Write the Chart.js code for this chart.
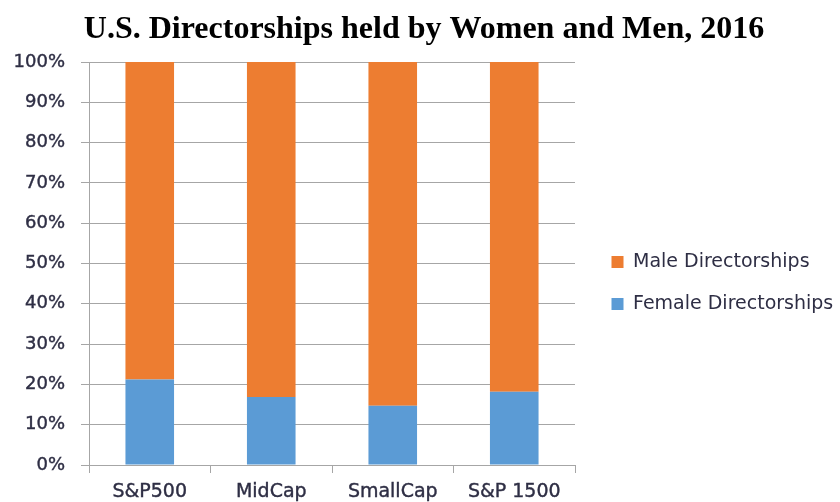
<!DOCTYPE html>
<html>
<head>
<meta charset="utf-8">
<script src="https://cdn.jsdelivr.net/npm/chart.js@4.4.1/dist/chart.umd.min.js"></script>
<style>
  html, body { margin: 0; padding: 0; background: #ffffff; }
  #wrap { width: 840px; height: 502px; }
</style>
</head>
<body>
<div id="wrap"><canvas id="c" width="840" height="502"></canvas></div>
<script>
const categories = ['S&P500', 'MidCap', 'SmallCap', 'S&P 1500'];
const femaleShare = [21.2, 16.9, 14.7, 18.2];
const maleShare = [78.8, 83.1, 85.3, 81.8];
const seriesNames = ['Female Directorships', 'Male Directorships'];
const titleText = 'U.S. Directorships held by Women and Men, 2016';

const gridColor = '#a6a6a6';
const labelColor = '#2e2e44';
const sansFamily = '"DejaVu Sans", Verdana, sans-serif';

const legendTweak = {
  id: 'legendTweak',
  beforeLayout(chart) {
    const lg = chart.legend;
    if (lg && !lg._patched) {
      const orig = lg.fit.bind(lg);
      lg.fit = function () { orig(); this.width = 265; };
      lg._patched = true;
    }
  },
  afterLayout(chart) {
    const lg = chart.legend;
    if (!lg) return;
    lg.left += 13.5; lg.right += 13.5;
    lg.top += 32; lg.bottom += 32;
  }
};

new Chart(document.getElementById('c'), {
  type: 'bar',
  data: {
    labels: categories,
    datasets: [
      { label: seriesNames[0], data: femaleShare, backgroundColor: '#5B9BD5', borderWidth: 0 },
      { label: seriesNames[1], data: maleShare, backgroundColor: '#ED7D31', borderWidth: 0 }
    ]
  },
  options: {
    responsive: false,
    animation: false,
    devicePixelRatio: 1,
    layout: { padding: { left: 8, right: 0, top: 0, bottom: 0 } },
    datasets: { bar: { barPercentage: 0.4, categoryPercentage: 1.0 } },
    plugins: {
      title: {
        display: true,
        text: titleText,
        color: '#000000',
        font: { family: '"Liberation Serif", "Times New Roman", serif', size: 32, weight: 'bold' },
        padding: { top: 11, bottom: 12.6 }
      },
      legend: {
        display: true,
        position: 'right',
        reverse: true,
        labels: {
          boxWidth: 12,
          boxHeight: 12,
          padding: 23,
          color: labelColor,
          font: { family: sansFamily, size: 19 }
        }
      },
      tooltip: { enabled: false }
    },
    scales: {
      x: {
        stacked: true,
        offset: true,
        afterFit(scale) { scale.height = 37; },
        grid: { display: true, offset: true, drawOnChartArea: false, drawTicks: true, tickLength: 8, color: gridColor, lineWidth: 1 },
        border: { display: true, color: gridColor, width: 1 },
        ticks: {
          color: labelColor,
          padding: 8,
          maxRotation: 0,
          textStrokeColor: labelColor,
          textStrokeWidth: 0.4,
          font: { family: sansFamily, size: 19 }
        }
      },
      y: {
        stacked: true,
        min: 0,
        max: 100,
        afterFit(scale) { scale.width = 81; },
        grid: { color: gridColor, lineWidth: 1, tickLength: 8, drawTicks: true },
        border: { display: true, color: gridColor, width: 1 },
        ticks: {
          stepSize: 10,
          padding: 16,
          color: labelColor,
          textStrokeColor: labelColor,
          textStrokeWidth: 0.4,
          font: { family: sansFamily, size: 18 },
          callback: (v) => v + '%'
        }
      }
    }
  },
  plugins: [legendTweak]
});
</script>
</body>
</html>
